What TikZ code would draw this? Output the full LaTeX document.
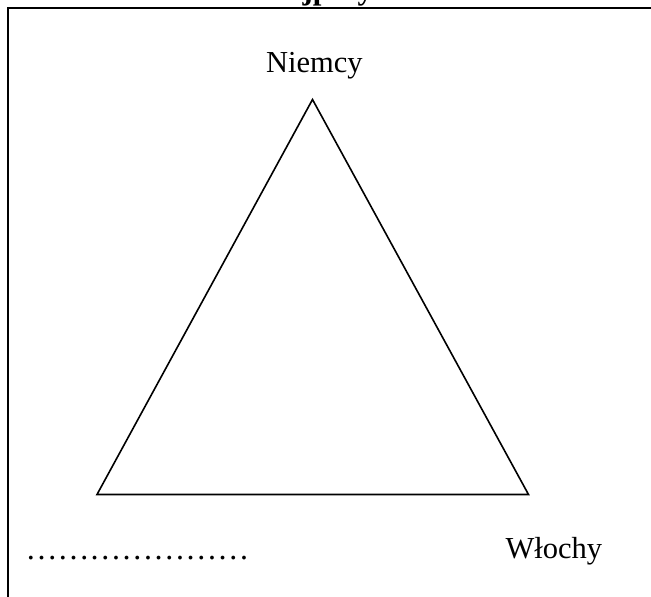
\documentclass[tikz,border=0pt]{standalone}
\usepackage{fontspec}
\setmainfont{Liberation Serif}
\begin{document}
\begin{tikzpicture}[x=1pt,y=-1pt,
  lbl/.style={anchor=base west,inner sep=0pt,outer sep=0pt,font=\fontsize{30.5}{36}\selectfont},
  ttl/.style={anchor=base west,inner sep=0pt,outer sep=0pt,font=\fontsize{31}{36}\selectfont\bfseries},
  frameline/.style={line width=2.6pt,line cap=rect},
  triline/.style={line width=1.6pt,line join=miter}]
\useasboundingbox (0,0) rectangle (651,597);
% frame (top and left only visible)
\coordinate (TL) at (8,8);
\coordinate (TR) at (655,8);
\coordinate (BL) at (8,600);
\draw[frameline] (TR) -- (TL) -- (BL);
% cut-off title
\node[ttl] (title) at (255,-0.5) {Trójprzymierze};
% triangle
\coordinate (apex) at (312.5,99.5);
\coordinate (left) at (97,494.5);
\coordinate (right) at (528.5,494.5);
\draw[triline] (apex) -- (right) -- (left) -- cycle;
% labels
\node[lbl] (niemcy) at (266,72) {Niemcy};
\node[lbl] (wlochy) at (505.5,558) {Włochy};
\node[lbl,font=\fontsize{32}{36}\selectfont] (blank) at (25.5,559) {…………………};
\end{tikzpicture}
\end{document}
